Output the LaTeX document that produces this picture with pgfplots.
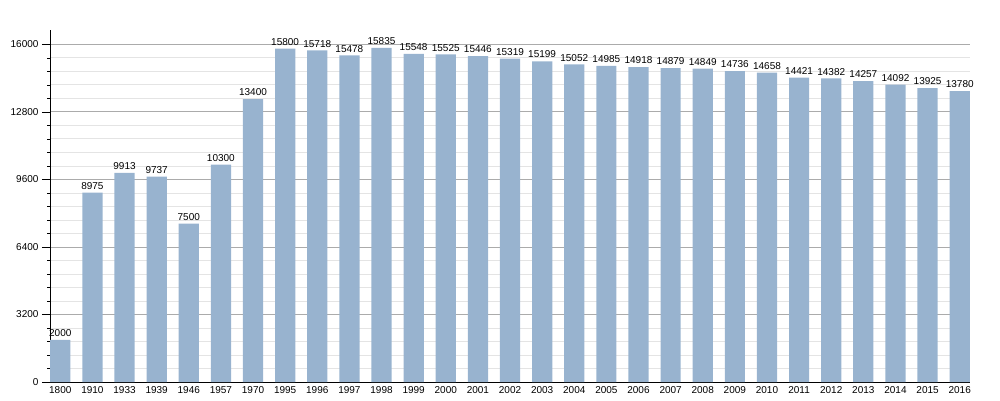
\documentclass[border=0pt]{standalone}
\usepackage{pgfplots}
\pgfplotsset{compat=1.18}
\usepackage{fontspec}
\setmainfont{Liberation Sans}
\definecolor{barblue}{HTML}{98B3CF}
\definecolor{majgrid}{HTML}{ABABAB}
\definecolor{mingrid}{HTML}{E4E4E4}
\begin{document}
\begin{tikzpicture}[x=1pt,y=1pt]
\path[use as bounding box] (0,0) rectangle (1000,400);
\begin{axis}[
  at={(50pt,18pt)}, anchor=south west,
  scale only axis, width=920pt, height=352pt,
  xmin=-0.32, xmax=28.32,
  ymin=0, ymax=16680,
  ytick={0,3200,6400,9600,12800,16000},
  minor y tick num=4,
  xtick={0,...,28},
  xticklabels={1800,1910,1933,1939,1946,1957,1970,1995,1996,1997,1998,1999,2000,2001,2002,2003,2004,2005,2006,2007,2008,2009,2010,2011,2012,2013,2014,2015,2016},
  axis x line*=bottom, axis y line*=left,
  axis line style={black, line width=0.8pt},
  tick align=outside,
  major tick length=8pt, minor tick length=2.5pt,
  xtick style={draw=none},
  ytick style={black, line width=0.6pt},
  xticklabel style={yshift=7pt},
  ymajorgrids, yminorgrids,
  major grid style={majgrid, line width=0.8pt},
  minor grid style={mingrid, line width=0.8pt},
  tick label style={font=\fontsize{10}{12}\selectfont, text=black},
  /pgf/number format/assume math mode=true,
  /pgf/number format/1000 sep={},
  /pgf/number format/fixed,
  scaled y ticks=false,
  ybar, bar width=0.63,
  nodes near coords,
  every node near coord/.append style={font=\fontsize{10}{12}\selectfont, text=black, /pgf/number format/1000 sep={}, /pgf/number format/fixed, /pgf/number format/precision=0, inner sep=3pt},
  axis on top=false,
  clip=false,
]
\addplot[fill=barblue, draw=none, bar shift=0pt] coordinates {
(0,2000) (1,8975) (2,9913) (3,9737) (4,7500) (5,10300) (6,13400)
(7,15800) (8,15718) (9,15478) (10,15835) (11,15548) (12,15525) (13,15446)
(14,15319) (15,15199) (16,15052) (17,14985) (18,14918) (19,14879) (20,14849)
(21,14736) (22,14658) (23,14421) (24,14382) (25,14257) (26,14092) (27,13925) (28,13780)
};
\end{axis}
\end{tikzpicture}
\end{document}
